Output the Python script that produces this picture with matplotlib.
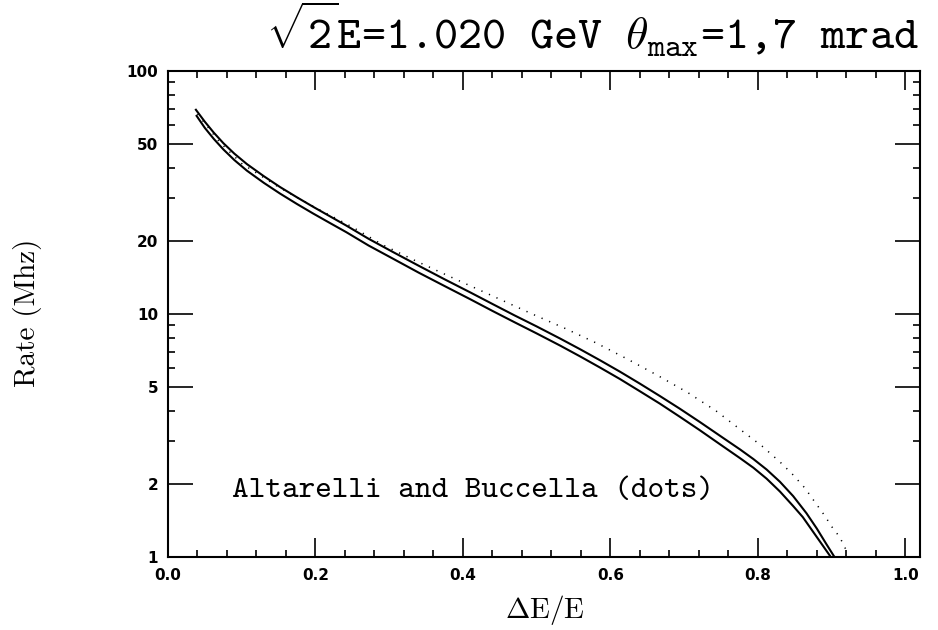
import matplotlib
matplotlib.use("Agg")
import matplotlib.pyplot as plt
from matplotlib.ticker import NullFormatter, FixedLocator

plt.rcParams['mathtext.fontset'] = 'custom'
plt.rcParams['mathtext.rm'] = 'cmtt10'
plt.rcParams['mathtext.tt'] = 'cmtt10'
plt.rcParams['mathtext.it'] = 'cmtt10'
plt.rcParams['mathtext.fallback'] = 'cm'

# ---- data ----
x_upper = [0.037, 0.05, 0.062, 0.075, 0.09, 0.107, 0.13, 0.152, 0.175, 0.197, 0.22, 0.242,
           0.272, 0.305, 0.34, 0.375, 0.41, 0.44, 0.47, 0.50, 0.532, 0.559, 0.586, 0.613,
           0.640, 0.667, 0.694, 0.721, 0.753, 0.776, 0.794, 0.812, 0.830, 0.848, 0.866,
           0.880, 0.893, 0.904]
y_upper = [69.8, 61.8, 55.8, 50.5, 45.7, 41.4, 36.9, 33.3, 30.2, 27.6, 25.2, 23.1,
           20.4, 18.0, 15.8, 13.9, 12.27, 11.0, 9.87, 8.89, 7.92, 7.16, 6.45, 5.79,
           5.17, 4.60, 4.08, 3.60, 3.09, 2.77, 2.53, 2.29, 2.04, 1.78, 1.514,
           1.31, 1.13, 1.0]

x_lower = [0.038, 0.05, 0.062, 0.075, 0.09, 0.107, 0.13, 0.152, 0.175, 0.197, 0.22, 0.242,
           0.272, 0.305, 0.34, 0.375, 0.41, 0.44, 0.47, 0.50, 0.532, 0.559, 0.586, 0.613,
           0.640, 0.667, 0.694, 0.721, 0.753, 0.776, 0.794, 0.812, 0.830, 0.848, 0.861,
           0.875, 0.889, 0.899]
y_lower = [65.9, 58.3, 52.6, 47.6, 43.0, 38.9, 34.65, 31.3, 28.35, 25.9, 23.65, 21.7,
           19.14, 16.9, 14.8, 13.04, 11.5, 10.3, 9.25, 8.32, 7.41, 6.69, 6.02, 5.40,
           4.81, 4.28, 3.78, 3.33, 2.85, 2.55, 2.33, 2.10, 1.86, 1.62, 1.46,
           1.27, 1.105, 1.0]

x_dots = [0.04, 0.07, 0.10, 0.15, 0.20, 0.25, 0.292, 0.335, 0.388, 0.442, 0.495, 0.538,
          0.580, 0.622, 0.664, 0.705, 0.743, 0.780, 0.807, 0.832, 0.848, 0.864, 0.877,
          0.890, 0.902, 0.911, 0.921]
y_dots = [66.5, 51.0, 41.6, 33.3, 27.4, 22.8, 19.2, 16.6, 14.0, 11.8, 9.97, 8.74,
          7.62, 6.55, 5.59, 4.75, 4.0, 3.28, 2.84, 2.43, 2.175, 1.92, 1.69,
          1.49, 1.31, 1.21, 1.05]

x_major = [0.0, 0.2, 0.4, 0.6, 0.8, 1.0]
x_major_labels = ['0.0', '0.2', '0.4', '0.6', '0.8', '1.0']
y_major = [1, 2, 5, 10, 20, 50, 100]
y_major_labels = ['1', '2', '5', '10', '20', '50', '100']
y_minor = [3, 4, 6, 7, 8, 9, 30, 40, 60, 70, 80, 90]

title_text = r'$\sqrt{2}$E=1.020 GeV $\theta_{\mathrm{max}}$=1,7 mrad'
note_text = 'Altarelli and Buccella (dots)'
xlabel_text = r'$\Delta\mathrm{E/E}$'
ylabel_text = 'Rate (Mhz)'

# ---- figure ----
W, H = 938, 630
fig = plt.figure(figsize=(W / 100, H / 100), dpi=100)
L, R, T, B = 168, 920, 71, 557
ax = fig.add_axes([L / W, 1 - B / H, (R - L) / W, (B - T) / H])

ax.plot(x_upper, y_upper, color='black', lw=1.5, solid_capstyle='butt')
ax.plot(x_lower, y_lower, color='black', lw=1.5, solid_capstyle='butt')
ax.plot(x_dots, y_dots, color='black', lw=1.1, linestyle=(0, (0.8, 4.6)))

ax.set_yscale('log')
ax.set_xlim(0, 1.02)
ax.set_ylim(1, 100)

ax.set_xticks(x_major)
ax.set_xticklabels(x_major_labels)
ax.set_xticks([i * 0.04 for i in range(26)], minor=True)
ax.yaxis.set_major_locator(FixedLocator(y_major))
ax.set_yticklabels(y_major_labels)
ax.yaxis.set_minor_locator(FixedLocator(y_minor))
ax.yaxis.set_minor_formatter(NullFormatter())

ax.tick_params(which='both', direction='in', top=True, right=True, width=1.2, colors='black')
ax.tick_params(axis='x', which='major', length=14, pad=8)
ax.tick_params(axis='y', which='major', length=18, pad=7)
ax.tick_params(which='minor', length=5)
for lab in ax.get_xticklabels() + ax.get_yticklabels():
    lab.set_fontfamily('DejaVu Sans')
    lab.set_fontweight('bold')
    lab.set_fontsize(11)

for sp in ax.spines.values():
    sp.set_linewidth(1.5)

fig.text(232 / W, 1 - 497 / H, note_text, fontfamily='cmtt10', fontsize=22.8,
         ha='left', va='baseline')
fig.text(592 / W, 1 - 49 / H, title_text, fontfamily='cmtt10', fontsize=33,
         ha='center', va='baseline')
fig.text(545 / W, 1 - 610 / H, xlabel_text, fontsize=21, ha='center', va='center',
         math_fontfamily='cm')
fig.text(27 / W, 1 - 313 / H, ylabel_text, fontfamily='cmr10', fontsize=21,
         rotation=90, ha='center', va='center')

fig.savefig('out.png', dpi=100)
